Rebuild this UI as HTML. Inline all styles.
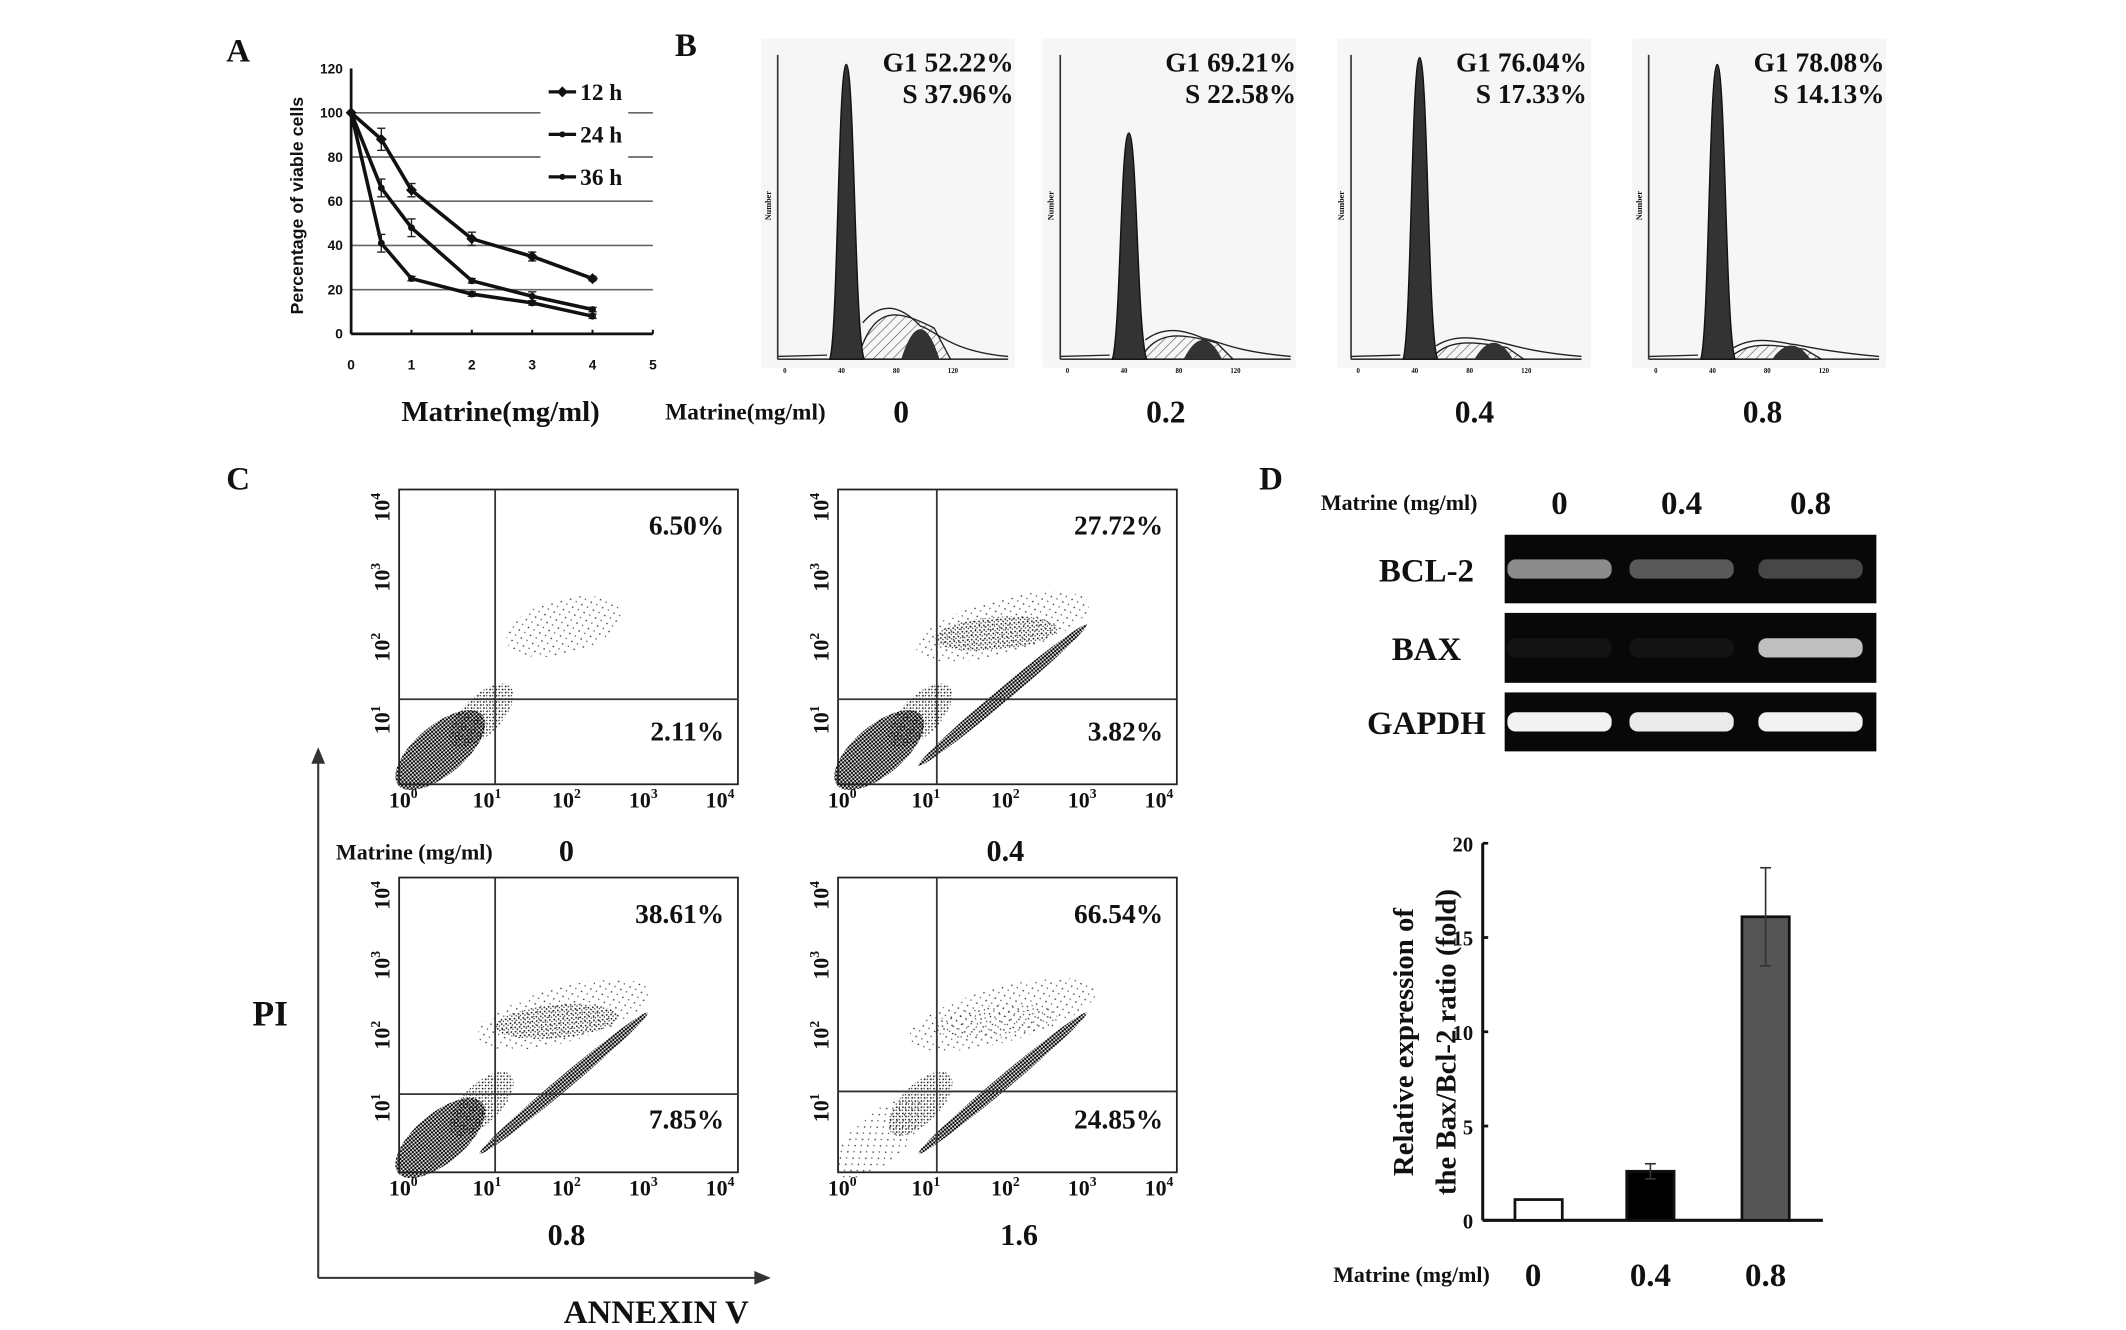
<!DOCTYPE html>
<html><head><meta charset="utf-8"><style>
html,body{margin:0;padding:0;background:#fff}
svg{display:block}
text{font-family:"Liberation Serif",serif;font-weight:bold;fill:#111}
text.sans{font-family:"Liberation Sans",sans-serif}
</style></head><body>
<svg id="fig" width="2126" height="1330" viewBox="0 0 1550 970" preserveAspectRatio="none" xmlns="http://www.w3.org/2000/svg">
<defs>
<pattern id="dotsDense" width="2" height="2" patternUnits="userSpaceOnUse"><circle cx="1" cy="1" r="0.85" fill="#000"/></pattern>
<pattern id="dotsMid" width="3.2" height="3.2" patternUnits="userSpaceOnUse"><circle cx="1" cy="1" r="0.65" fill="#111"/><circle cx="2.4" cy="2.3" r="0.5" fill="#222"/></pattern>
<pattern id="dotsSparse" width="7" height="6" patternUnits="userSpaceOnUse"><circle cx="1" cy="1" r="0.6" fill="#333"/><circle cx="4.5" cy="3.8" r="0.5" fill="#444"/></pattern>
<pattern id="hatch" width="5" height="5" patternUnits="userSpaceOnUse" patternTransform="rotate(45)"><line x1="0" y1="0" x2="0" y2="5" stroke="#444" stroke-width="0.8"/></pattern>
</defs>

<text x="165" y="45" font-size="24">A</text>
<text x="492" y="41" font-size="24">B</text>
<text x="165" y="357" font-size="24">C</text>
<text x="918" y="357" font-size="24">D</text>

<g id="panelA"></g>
<g id="panelB"></g>
<g id="panelC"></g>
<g id="panelD"></g>
</svg>
<script>
// ---------- Panel A data ----------
const doseA = [0, 0.5, 1, 2, 3, 4];
const viab12 = [100, 88, 65, 43, 35, 25];
const viab24 = [100, 66, 48, 24, 17, 11];
const viab36 = [100, 41, 25, 18, 14, 8];
const errA12 = [0, 5, 3, 3, 2, 1];
const errA24 = [0, 4, 4, 1, 2, 1];
const errA36 = [0, 4, 1, 1, 1, 1];
const seriesNamesA = ["12 h", "24 h", "36 h"];
const yTicksA = [0, 20, 40, 60, 80, 100, 120];
const xTicksA = [0, 1, 2, 3, 4, 5];

// ---------- Panel B data ----------
const cycleDoses = ["0", "0.2", "0.4", "0.8"];
const g1Pct = ["52.22", "69.21", "76.04", "78.08"];
const sPct = ["37.96", "22.58", "17.33", "14.13"];
const g1Heights = [215, 165, 220, 215];
const sHeights = [38, 20, 14, 12];
const g2Heights = [22, 14, 12, 10];

// ---------- Panel C data ----------
const apopDoses = ["0", "0.4", "0.8", "1.6"];
const ulPct = ["6.50%", "27.72%", "38.61%", "66.54%"];
const lrPct = ["2.11%", "3.82%", "7.85%", "24.85%"];

// ---------- Panel D data ----------
const gelDoses = ["0", "0.4", "0.8"];
const bcl2Int = [0.55, 0.35, 0.28];
const baxInt = [0.08, 0.08, 0.75];
const gapdhInt = [0.95, 0.92, 0.95];
const ratioCats = ["0", "0.4", "0.8"];
const ratioVals = [1.1, 2.6, 16.1];
const ratioErr = [0, 0.4, 2.6];
const ratioFills = ["#fff", "#000", "#555"];
const yTicksD = [0, 5, 10, 15, 20];

const NS = "http://www.w3.org/2000/svg";
function mk(parent, tag, attrs, txt) {
  const e = document.createElementNS(NS, tag);
  for (const k in attrs) e.setAttribute(k, attrs[k]);
  if (txt !== undefined) e.textContent = txt;
  parent.appendChild(e);
  return e;
}

// ===== Panel A =====
(function(){
  const g = document.getElementById('panelA');
  const x0 = 256, x1 = 476, y0 = 243.5, y1 = 50;
  const xs = v => x0 + (v / 5) * (x1 - x0);
  const ys = v => y0 - (v / 120) * (y0 - y1);
  yTicksA.forEach(t => {
    if (t > 0 && t < 120) {
      const gl = mk(g, 'line', {x1: x0, x2: x1, y1: ys(t), y2: ys(t), stroke: '#666', 'stroke-width': 1.2});
      
      
    }
    const tl = mk(g, 'text', {x: x0 - 6, y: ys(t) + 3.5, 'font-size': 10, 'text-anchor': 'end', 'font-weight': 'normal', class: 'sans'}, t);
    
    
  });
  mk(g, 'rect', {x: 394, y: 56, width: 64, height: 84, fill: '#fff'});
  mk(g, 'line', {x1: x0, x2: x0, y1: y1, y2: y0, stroke: '#111', 'stroke-width': 2});
  mk(g, 'line', {x1: x0, x2: x1, y1: y0, y2: y0, stroke: '#111', 'stroke-width': 2});
  xTicksA.forEach(t => {
    mk(g, 'line', {x1: xs(t), x2: xs(t), y1: y0, y2: y0 - 3, stroke: '#111', 'stroke-width': 1.5});
    const tl = mk(g, 'text', {x: xs(t), y: y0 + 26, 'font-size': 10, 'text-anchor': 'middle', 'font-weight': 'normal', class: 'sans'}, t);
    
    
  });
  const yt = mk(g, 'text', {x: 0, y: 0, 'font-size': 13, 'text-anchor': 'middle', transform: 'translate(221,150) rotate(-90)', class: 'sans'}, 'Percentage of viable cells');
  
  
  const xt = mk(g, 'text', {x: 365, y: 307, 'font-size': 21, 'text-anchor': 'middle'}, 'Matrine(mg/ml)');
  
  
  const all = [viab12, viab24, viab36], errs = [errA12, errA24, errA36];
  all.forEach((vals, si) => {
    const pts = doseA.map((d, i) => xs(d) + ',' + ys(vals[i])).join(' ');
    const pl = mk(g, 'polyline', {points: pts, fill: 'none', stroke: '#111', 'stroke-width': 2.6});
    
    
    doseA.forEach((d, i) => {
      const e = errs[si][i];
      if (e > 0) {
        mk(g, 'line', {x1: xs(d), x2: xs(d), y1: ys(vals[i] + e), y2: ys(vals[i] - e), stroke: '#222', 'stroke-width': 1});
        mk(g, 'line', {x1: xs(d) - 3, x2: xs(d) + 3, y1: ys(vals[i] + e), y2: ys(vals[i] + e), stroke: '#222', 'stroke-width': 1});
        mk(g, 'line', {x1: xs(d) - 3, x2: xs(d) + 3, y1: ys(vals[i] - e), y2: ys(vals[i] - e), stroke: '#222', 'stroke-width': 1});
      }
      const m = si === 0 ? mk(g, 'path', {d: `M${xs(d)-4},${ys(vals[i])} L${xs(d)},${ys(vals[i])-4} L${xs(d)+4},${ys(vals[i])} L${xs(d)},${ys(vals[i])+4}Z`, fill: '#111'})
                         : mk(g, 'circle', {cx: xs(d), cy: ys(vals[i]), r: 2.5, fill: '#111'});
      
      
    });
    const ly = 67 + si * 31;
    mk(g, 'line', {x1: 400, x2: 420, y1: ly, y2: ly, stroke: '#111', 'stroke-width': 2.4});
    if (si === 0) mk(g, 'path', {d: `M406,${ly} L410,${ly-4} L414,${ly} L410,${ly+4}Z`, fill: '#111'});
    else mk(g, 'circle', {cx: 410, cy: ly, r: 2.2, fill: '#111'});
    const lt = mk(g, 'text', {x: 423, y: ly + 6, 'font-size': 17}, seriesNamesA[si]);
    
    
  });
})();

// ===== Panel B =====
(function(){
  const g = document.getElementById('panelB');
  const lefts = [567, 773, 985, 1202];
  const boxL = [555, 760, 975, 1190];
  const base = 262;
  const lab = mk(g, 'text', {x: 485, y: 306, 'font-size': 17}, 'Matrine(mg/ml)');
  
  
  const doseX = [657, 850, 1075, 1285];
  cycleDoses.forEach((d, i) => {
    const L = lefts[i];
    const panel = mk(g, 'g', {});
    
    
    mk(panel, 'rect', {x: boxL[i], y: 28, width: 185, height: 240, fill: '#f6f6f6'});
    mk(panel, 'line', {x1: L, x2: L, y1: 40, y2: base, stroke: '#333', 'stroke-width': 1.2});
    mk(panel, 'line', {x1: L, x2: L + 168, y1: base, y2: base, stroke: '#333', 'stroke-width': 1.2});
    for (let k = 0; k < 4; k++) {
      mk(panel, 'text', {x: L + 4 + k * 40, y: base + 10, 'font-size': 5, 'font-weight': 'normal'}, k * 40);
    }
    mk(panel, 'text', {x: 0, y: 0, 'font-size': 6, transform: `translate(${L-5},150) rotate(-90)`, 'text-anchor': 'middle'}, 'Number');
    const pk = L + 50, g2 = L + 104;
    const sH = sHeights[i];
    mk(panel, 'path', {d: `M${pk+8},${base} C${pk+20},${base-sH} ${g2-20},${base-sH} ${g2+10},${base-sH*0.6} L${g2+22},${base} Z`, fill: 'url(#hatch)', stroke: '#222', 'stroke-width': 1});
    const g2H = g2Heights[i];
    mk(panel, 'path', {d: `M${g2-14},${base} Q${g2},${base-g2H*2} ${g2+14},${base} Z`, fill: '#333'});
    const h = g1Heights[i];
    mk(panel, 'path', {d: `M${pk-12},${base} C${pk-6},${base-20} ${pk-6},${base-h} ${pk},${base-h} C${pk+6},${base-h} ${pk+6},${base-20} ${pk+13},${base} Z`, fill: '#333', stroke: '#111', 'stroke-width': 1});
    mk(panel, 'path', {d: `M${L},${base-2} L${pk-14},${base-3} M${pk+12},${base-sH*0.7} C${pk+25},${base-sH-4} ${g2-15},${base-sH-2} ${g2},${base-g2H*1.1} C${g2+10},${base-g2H} ${g2+20},${base-6} ${L+168},${base-2}`, fill: 'none', stroke: '#222', 'stroke-width': 1});
    const t1 = mk(panel, 'text', {x: L + 172, y: 52, 'font-size': 20, 'text-anchor': 'end'}, 'G1 ' + g1Pct[i] + '%');
    
    
    const t2 = mk(panel, 'text', {x: L + 172, y: 75, 'font-size': 20, 'text-anchor': 'end'}, 'S ' + sPct[i] + '%');
    
    
    const dl = mk(g, 'text', {x: doseX[i], y: 308, 'font-size': 23, 'text-anchor': 'middle'}, d);
    
    
  });
})();

// ===== Panel C =====
(function(){
  const g = document.getElementById('panelC');
  const W = 247, H = 215;
  const offs = [[291, 357], [611, 357], [291, 640], [611, 640]];
  const vOff = [70, 72, 70, 72];
  const hOff = [153, 153, 158, 156];
  const decX = [3, 64, 122, 178, 234];
  const decY = [8, 59, 110, 163];
  const doseLbl = [[413, 628], [733, 628], [413, 913], [743, 913]];
  apopDoses.forEach((d, i) => {
    const [bx, by] = offs[i];
    const p = mk(g, 'g', {});
    
    
    const vx = bx + vOff[i], hy = by + hOff[i];
    const diag = i === 0 ? 0.6 : i === 1 ? 1 : i === 2 ? 1 : 1.1;
    mk(p, 'ellipse', {cx: bx + 30, cy: by + H - 25, rx: 40, ry: 18, transform: `rotate(-40 ${bx+30} ${by+H-25})`, fill: i === 3 ? 'url(#dotsSparse)' : 'url(#dotsDense)'});
    mk(p, 'ellipse', {cx: bx + 60, cy: by + H - 50, rx: 30, ry: 14, transform: `rotate(-45 ${bx+60} ${by+H-50})`, fill: 'url(#dotsMid)'});
    mk(p, 'ellipse', {cx: bx + 120, cy: by + 100, rx: 55 * diag + 10, ry: 20, transform: `rotate(-15 ${bx+120} ${by+100})`, fill: 'url(#dotsSparse)'});
    if (i > 0) {
      mk(p, 'ellipse', {cx: bx + 120, cy: by + 150, rx: 80, ry: 5, transform: `rotate(-40 ${bx+120} ${by+150})`, fill: 'url(#dotsDense)'});
      mk(p, 'ellipse', {cx: bx + 115, cy: by + 105, rx: 45, ry: 12, transform: `rotate(-5 ${bx+115} ${by+105})`, fill: i === 3 ? 'url(#dotsSparse)' : 'url(#dotsMid)'});
    }
    mk(p, 'rect', {x: bx, y: by, width: W, height: H, fill: 'none', stroke: '#222', 'stroke-width': 1.3});
    mk(p, 'line', {x1: vx, x2: vx, y1: by, y2: by + H, stroke: '#333', 'stroke-width': 1.3});
    mk(p, 'line', {x1: bx, x2: bx + W, y1: hy, y2: hy, stroke: '#333', 'stroke-width': 1.3});
    const u = mk(p, 'text', {x: bx + W - 10, y: by + 33, 'font-size': 20, 'text-anchor': 'end'}, ulPct[i]);
    
    
    const l = mk(p, 'text', {x: bx + W - 10, y: by + 183, 'font-size': 20, 'text-anchor': 'end'}, lrPct[i]);
    
    
    decX.forEach((dx, k) => {
      const t = mk(p, 'text', {x: bx + dx, y: by + H + 17, 'font-size': 16, 'text-anchor': 'middle', 'font-weight': 'normal'});
      
      
      mk(t, 'tspan', {}, '10');
      mk(t, 'tspan', {'font-size': 10, dy: -7}, String(k));
    });
    decY.forEach((dy, k) => {
      const t = mk(p, 'text', {x: 0, y: 0, 'font-size': 16, 'text-anchor': 'middle', 'font-weight': 'normal', transform: `translate(${bx-7},${by+dy+5}) rotate(-90)`});
      
      
      mk(t, 'tspan', {}, '10');
      mk(t, 'tspan', {'font-size': 10, dy: -7}, String(4 - k));
    });
    const dl = mk(g, 'text', {x: doseLbl[i][0], y: doseLbl[i][1] + (i < 2 ? 0 : -5), 'font-size': 22, 'text-anchor': 'middle'}, d);
    
    
  });
  const ml = mk(g, 'text', {x: 245, y: 627, 'font-size': 16}, 'Matrine (mg/ml)');
  
  
  mk(g, 'line', {x1: 232, x2: 232, y1: 550, y2: 932, stroke: '#333', 'stroke-width': 1.5});
  mk(g, 'path', {d: 'M227,557 L232,545 L237,557 Z', fill: '#333'});
  mk(g, 'line', {x1: 232, x2: 555, y1: 932, y2: 932, stroke: '#333', 'stroke-width': 1.5});
  mk(g, 'path', {d: 'M550,927 L562,932 L550,937 Z', fill: '#333'});
  const pi = mk(g, 'text', {x: 184, y: 748, 'font-size': 26}, 'PI');
  
  
  const an = mk(g, 'text', {x: 411, y: 965, 'font-size': 24}, 'ANNEXIN V');
  
  
})();

// ===== Panel D =====
(function(){
  const g = document.getElementById('panelD');
  const laneX = [1137, 1226, 1320];
  const ml = mk(g, 'text', {x: 963, y: 372, 'font-size': 16}, 'Matrine (mg/ml)');
  
  
  gelDoses.forEach((d, i) => {
    const t = mk(g, 'text', {x: laneX[i], y: 375, 'font-size': 24, 'text-anchor': 'middle'}, d);
    
    
  });
  const rows = [["BCL-2", 390, 50, bcl2Int], ["BAX", 447, 51, baxInt], ["GAPDH", 505, 43, gapdhInt]];
  rows.forEach(([nm, y, h, ints]) => {
    const r = mk(g, 'g', {});
    
    
    mk(r, 'rect', {x: 1097, y: y, width: 271, height: h, fill: '#080808'});
    ints.forEach((v, i) => {
      const c = Math.round(255 * v);
      const b = mk(r, 'rect', {x: laneX[i] - 38, y: y + h / 2 - 7, width: 76, height: 14, rx: 6, fill: `rgb(${c},${c},${c})`});
      
      
    });
    mk(r, 'text', {x: 1040, y: y + h / 2 + 9, 'font-size': 24, 'text-anchor': 'middle'}, nm);
  });
  const ax = 1081, y0 = 890, y20 = 615, xr = 1329;
  const ys = v => y0 - (v / 20) * (y0 - y20);
  const bx = [1104.5, 1186, 1270], bw = 34.5;
  mk(g, 'line', {x1: ax, x2: ax, y1: y20, y2: y0, stroke: '#111', 'stroke-width': 2.2});
  mk(g, 'line', {x1: ax, x2: xr, y1: y0, y2: y0, stroke: '#111', 'stroke-width': 2.2});
  yTicksD.forEach(t => {
    mk(g, 'line', {x1: ax, x2: ax + 4, y1: ys(t), y2: ys(t), stroke: '#111', 'stroke-width': 2});
    const tl = mk(g, 'text', {x: ax - 7, y: ys(t) + 6, 'font-size': 15, 'text-anchor': 'end'}, t);
    
    
  });
  ratioVals.forEach((v, i) => {
    const b = mk(g, 'rect', {x: bx[i], y: ys(v), width: bw, height: y0 - ys(v), fill: ratioFills[i], stroke: '#111', 'stroke-width': 2});
    
    
    const e = ratioErr[i];
    if (e > 0) {
      const cx = bx[i] + bw / 2;
      mk(g, 'line', {x1: cx, x2: cx, y1: ys(v + e), y2: ys(v - e), stroke: '#333', 'stroke-width': 1.2});
      mk(g, 'line', {x1: cx - 4, x2: cx + 4, y1: ys(v + e), y2: ys(v + e), stroke: '#333', 'stroke-width': 1.2});
      mk(g, 'line', {x1: cx - 4, x2: cx + 4, y1: ys(v - e), y2: ys(v - e), stroke: '#333', 'stroke-width': 1.2});
    }
    const t = mk(g, 'text', {x: bx[i] + bw / 2 + (i === 0 ? -4 : 0), y: 938, 'font-size': 24, 'text-anchor': 'middle'}, ratioCats[i]);
    
    
  });
  const m2 = mk(g, 'text', {x: 972, y: 935, 'font-size': 16}, 'Matrine (mg/ml)');
  
  
  const yt1 = mk(g, 'text', {x: 0, y: 0, 'font-size': 21, 'text-anchor': 'middle', transform: 'translate(1030,760) rotate(-90)'}, 'Relative expression of');
  
  
  const yt2 = mk(g, 'text', {x: 0, y: 0, 'font-size': 21, 'text-anchor': 'middle', transform: 'translate(1061,760) rotate(-90)'}, 'the Bax/Bcl-2 ratio (fold)');
  
  
})();
</script>
</body></html>
